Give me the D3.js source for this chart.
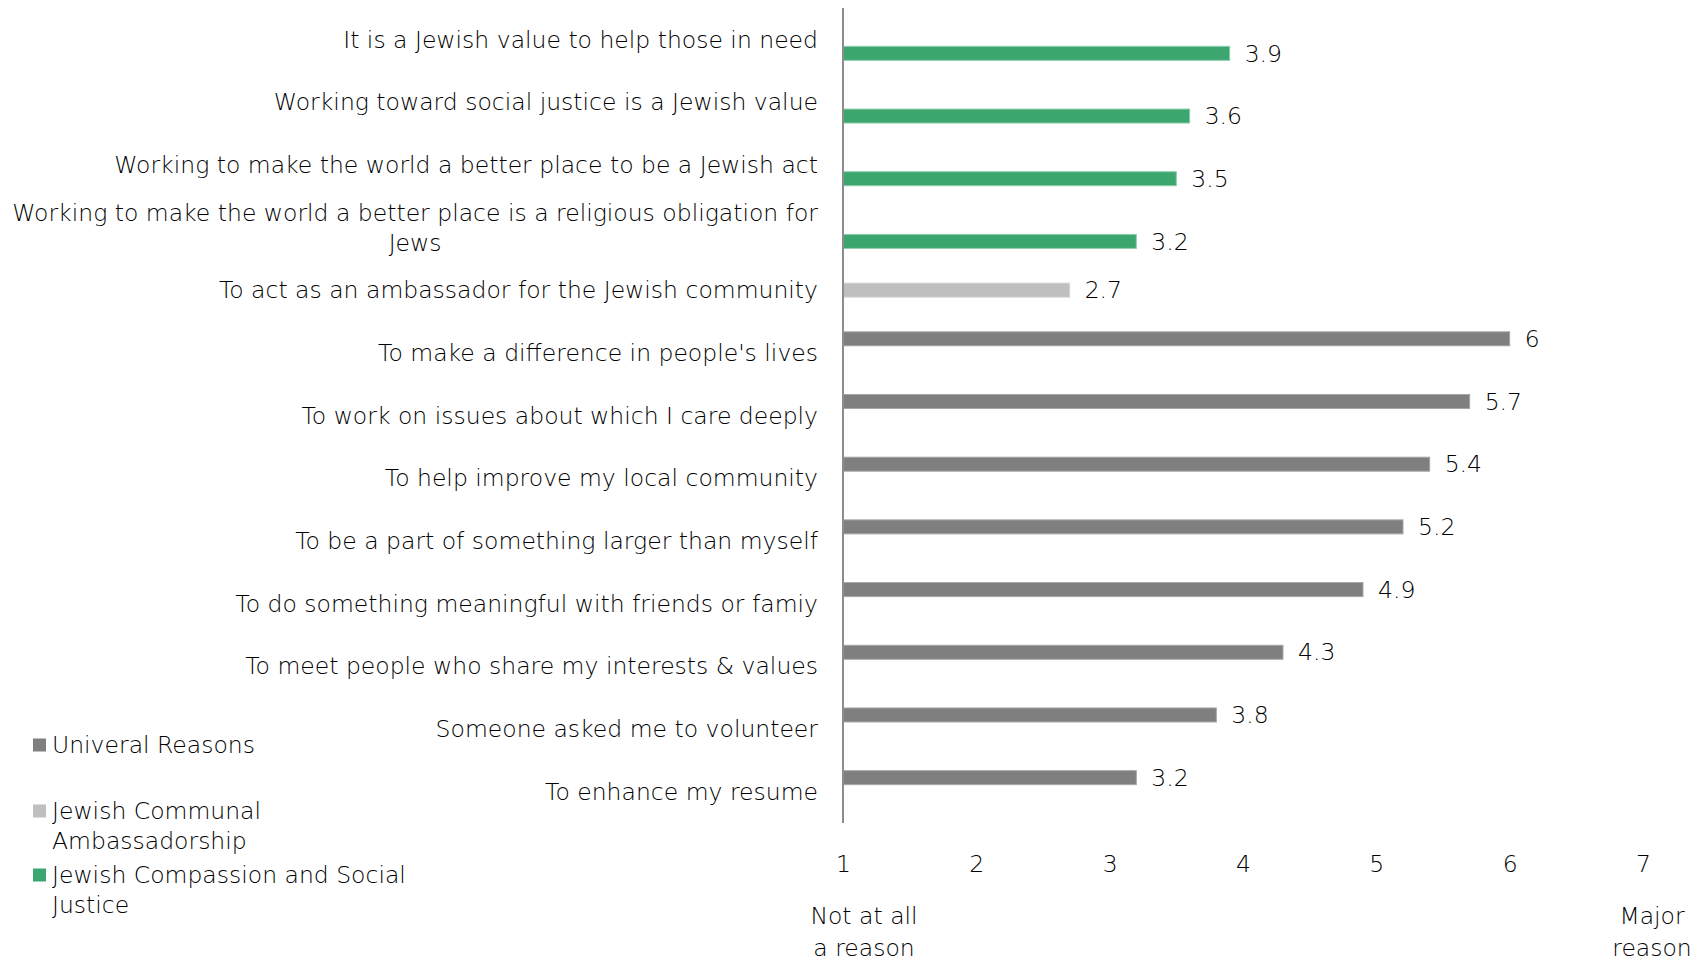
<!DOCTYPE html>
<html>
<head>
<meta charset="utf-8">
<script src="https://cdn.jsdelivr.net/npm/d3@7/dist/d3.min.js"></script>
<style>
  html, body { margin: 0; padding: 0; background: #ffffff; }
  svg { display: block; }
  text { font-family: "DejaVu Sans", sans-serif; font-weight: 200; fill: #000000; }
</style>
</head>
<body>
<svg id="chart" width="1704" height="962"></svg>
<script>
// Reasons for volunteering, mean rating on a 1–7 scale
const categories = [
  "It is a Jewish value to help those in need",
  "Working toward social justice is a Jewish value",
  "Working to make the world a better place to be a Jewish act",
  "Working to make the world a better place is a religious obligation for|Jews",
  "To act as an ambassador for the Jewish community",
  "To make a difference in people's lives",
  "To work on issues about which I care deeply",
  "To help improve my local community",
  "To be a part of something larger than myself",
  "To do something meaningful with friends or famiy",
  "To meet people who share my interests & values",
  "Someone asked me to volunteer",
  "To enhance my resume"
];
const groups = ["Univeral Reasons", "Jewish Communal Ambassadorship", "Jewish Compassion and Social Justice"];
const groupOf = [2, 2, 2, 2, 1, 0, 0, 0, 0, 0, 0, 0, 0];
const values = [3.9, 3.6, 3.5, 3.2, 2.7, 6.0, 5.7, 5.4, 5.2, 4.9, 4.3, 3.8, 3.2];
const ticks = [1, 2, 3, 4, 5, 6, 7];
const legendLines = [["Univeral Reasons"], ["Jewish Communal", "Ambassadorship"], ["Jewish Compassion and Social", "Justice"]];
const colors = ["#7f7f7f", "#bfbfbf", "#3ba66f"];
const edgeColors = ["#a6a6a6", "#d4d4d4", "#8fcdab"];

const FS = 23.5;
const svg = d3.select("#chart");
const x = d3.scaleLinear().domain([1, 7]).range([843, 1643]);
const y = d3.scaleBand().domain(d3.range(categories.length)).range([8, 823]);
const sub = d3.scaleBand().domain(d3.range(groups.length)).range([-21, 21]);

// bars
const rows = values.map((v, i) => ({ i, v, g: groupOf[i] }));
svg.append("g").selectAll("rect").data(rows).join("rect")
  .attr("x", x(1))
  .attr("y", d => y(d.i) + y.bandwidth() / 2 + sub(d.g))
  .attr("width", d => x(d.v) - x(1))
  .attr("height", sub.bandwidth())
  .attr("fill", d => colors[d.g])
  .attr("stroke", d => edgeColors[d.g])
  .attr("stroke-width", 1);

// value labels
svg.append("g").selectAll("text").data(rows).join("text")
  .attr("x", d => x(d.v) + 15)
  .attr("y", d => y(d.i) + y.bandwidth() / 2 + sub(d.g) + sub.bandwidth() / 2)
  .attr("dy", "0.35em")
  .attr("font-size", FS)
  .text(d => d3.format("~g")(d.v));

// category labels, right-aligned; wrapped labels are centred as a block
const labelG = svg.append("g");
categories.forEach((c, i) => {
  const lines = c.split("|");
  const cy = y(i) + y.bandwidth() / 2;
  const t = labelG.append("text").attr("font-size", FS);
  if (lines.length === 1) {
    t.attr("text-anchor", "end").attr("x", 818).attr("y", cy).attr("dy", "0.35em").text(lines[0]);
  } else {
    t.attr("text-anchor", "middle");
    const spans = lines.map((l, k) => t.append("tspan").text(l)
      .attr("y", cy + (k - (lines.length - 1) / 2) * 30).attr("dy", "0.35em"));
    const w = d3.max(spans, s => s.node().getComputedTextLength());
    spans.forEach(s => s.attr("x", 818 - w / 2));
  }
});

// vertical category axis line
svg.append("line")
  .attr("x1", x(1)).attr("x2", x(1))
  .attr("y1", y.range()[0]).attr("y2", y.range()[1])
  .attr("stroke", "#8c8c8c").attr("stroke-width", 2);

// value axis tick labels (no axis line)
const xAxis = d3.axisBottom(x).tickValues(ticks).tickSize(0).tickPadding(0).tickFormat(d3.format("d"));
const axisG = svg.append("g").attr("transform", "translate(0,864)").call(xAxis);
axisG.select(".domain").remove();
axisG.selectAll("text")
  .attr("font-size", FS).attr("font-family", null).attr("fill", null)
  .attr("dy", "0.35em");

// scale end descriptions
const ends = [
  { v: 1, dx: 21, lines: ["Not at all", "a reason"] },
  { v: 7, dx: 9, lines: ["Major", "reason"] }
];
ends.forEach(e => {
  const t = svg.append("text").attr("font-size", FS).attr("text-anchor", "middle");
  e.lines.forEach((l, k) => t.append("tspan")
    .attr("x", x(e.v) + e.dx).attr("y", 916 + k * 32).attr("dy", "0.35em").text(l));
});

// legend
const legendY = [745, 811, 875];
const lg = svg.append("g");
legendLines.forEach((lines, k) => {
  lg.append("rect").attr("x", 33).attr("y", legendY[k] - 6.5).attr("width", 13).attr("height", 13)
    .attr("fill", colors[k]);
  const t = lg.append("text").attr("font-size", FS);
  lines.forEach((l, j) => t.append("tspan").attr("x", 52).attr("y", legendY[k] + j * 30)
    .attr("dy", "0.35em").text(l));
});
</script>
</body>
</html>
